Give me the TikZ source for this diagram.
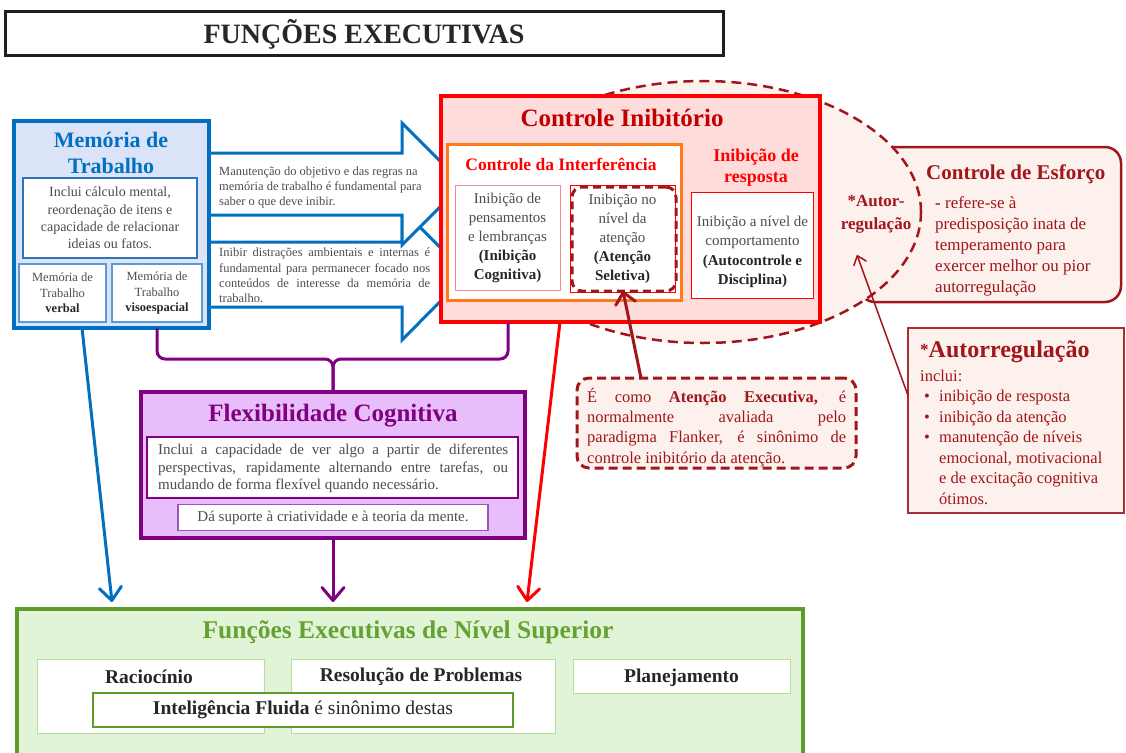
\documentclass[tikz,border=0pt]{standalone}
\usepackage{fontspec}
\setmainfont{Liberation Serif}
\usetikzlibrary{arrows.meta,shapes.geometric}
\definecolor{mblue}{HTML}{0070C0}
\definecolor{mfill}{HTML}{DAE3F7}
\definecolor{minner}{HTML}{2F75B5}
\definecolor{msmall}{HTML}{5B9BD5}
\definecolor{cired}{HTML}{FF0000}
\definecolor{cifill}{HTML}{FFDCDC}
\definecolor{cidark}{HTML}{C00000}
\definecolor{corange}{HTML}{FF7A1A}
\definecolor{dred}{HTML}{A0161B}
\definecolor{lfill}{HTML}{FCF1EC}
\definecolor{gtext}{HTML}{4D4D4D}
\definecolor{cpurple}{HTML}{800080}
\definecolor{pfill}{HTML}{E7BEF9}
\definecolor{pinner}{HTML}{9A55B8}
\definecolor{cgreen}{HTML}{5E9B2C}
\definecolor{gfill}{HTML}{E2F4D7}
\definecolor{gtitle}{HTML}{64A232}
\definecolor{gborder}{HTML}{B9DCA0}
\definecolor{pinkb}{HTML}{F28C8C}
\newcommand{\jl}[2]{\makebox[#1][s]{#2}}
\newcommand{\bk}[1]{\textbf{\color{black!85}#1}}
\newcommand{\bul}{\makebox[19pt][l]{\hspace{4pt}\textbullet}}
\newcommand{\ind}{\makebox[19pt]{}}
\newcommand{\fsz}[2]{\fontsize{#1}{#2}\selectfont}
\begin{document}
\begin{tikzpicture}[x=1pt,y=-1pt,
  box/.style={inner sep=0pt,outer sep=0pt},
  barrow/.style={draw=mblue,fill=white,line width=3pt,line join=miter},
  down/.style={line width=3pt,line cap=round,-{Straight Barb[length=13pt,width=22pt,round]}},
  brace/.style={draw=cpurple,line width=3pt,rounded corners=8pt}]
\useasboundingbox (0,0) rectangle (1126,752);
\clip (0,0) rectangle (1126,752);

% title
\node[box,draw=black!88,line width=3pt,fill=white,minimum width=718,minimum height=44,font=\fsz{28}{30}\bfseries,text=black!85] (title) at (364,34)
  {FUNÇÕES EXECUTIVAS};

% Controle de Esforço box and ellipse
\node[box,draw=dred,fill=lfill,line width=2.5pt,rounded corners=16pt,minimum width=262,minimum height=155] (esf) at (990,224.5) {};
\node[box,ellipse,draw=dred,fill=lfill,line width=2.5pt,dash pattern=on 10pt off 6pt,minimum width=436,minimum height=262] (ell) at (703,212) {};
\node[anchor=west,text=dred,inner sep=0,font=\fsz{21}{24}\bfseries] (esft) at (926,174) {Controle de Esforço};
\node[anchor=west,text=dred,align=left,inner sep=0,font=\fsz{17}{21}] (esfb) at (935,246)
  {\textbf{-} refere-se à\\predisposição inata de\\temperamento para\\exercer melhor ou pior\\autorregulação};
\node[text=dred,align=center,inner sep=0,font=\fsz{17}{23}\bfseries] (ar) at (876,214.5) {*Autor-\\regulação};
\coordinate (artip) at (857,255);

% block arrows
\draw[barrow] (209,242) -- (402,242) -- (402,209) -- (467,274.5) -- (402,340) -- (402,307) -- (209,307) -- cycle;
\draw[barrow] (209,153) -- (402,153) -- (402,123) -- (463,184) -- (402,245) -- (402,215) -- (209,215) -- cycle;

% Controle Inibitorio
\node[box,draw=cired,fill=cifill,line width=4pt,minimum width=379,minimum height=226] (ci) at (630.5,209) {};
\node[text=cidark,font=\fsz{25}{28}\bfseries] (cit) at (622,118) {Controle Inibitório};
\node[box,draw=corange,fill=white,line width=3pt,minimum width=234,minimum height=156] (cint) at (564,222) {};
\node[text=cired,font=\fsz{17.5}{20}\bfseries] (cintt) at (561,164) {Controle da Interferência};
\node[box,draw=pinkb,line width=1pt,fill=white,minimum width=105,minimum height=105,align=center,text=gtext,font=\fsz{15}{19}] (cog) at (507.5,237.5)
  {Inibição de\\pensamentos\\e lembranças\\\bk{(Inibição}\\\bk{Cognitiva)}};
\node[box,draw=cired,line width=1pt,fill=white,minimum width=105,minimum height=107,align=center,text=gtext,font=\fsz{15}{19}] (sel) at (622.5,238.5)
  {Inibição no\\nível da\\atenção\\\bk{(Atenção}\\\bk{Seletiva)}};
\node[box,draw=dred,dash pattern=on 8pt off 5pt,line width=3pt,rounded corners=10pt,minimum width=104,minimum height=104] (seld) at (624,239) {};
\node[text=cired,align=center,font=\fsz{18}{21}\bfseries] (irt) at (756,167.5) {Inibição de\\resposta};
\node[box,draw=cired,line width=1pt,fill=white,minimum width=122,minimum height=106] (resp) at (752.5,245) {};
\node[align=center,text=gtext,inner sep=0,font=\fsz{15}{19.5}] (respt) at (752.5,252)
  {Inibição a nível de\\comportamento\\\bk{(Autocontrole e}\\\bk{Disciplina)}};

% Memoria de Trabalho
\node[box,draw=mblue,fill=mfill,line width=3.5pt,minimum width=195,minimum height=207] (mem) at (111.5,224.5) {};
\node[text=mblue,align=center,font=\fsz{22}{26}\bfseries] (memt) at (111,153) {Memória de\\Trabalho};
\node[box,draw=minner,fill=white,line width=2pt,minimum width=174,minimum height=80,align=center,text=gtext,font=\fsz{14}{17.3}] (memi) at (110,218)
  {Inclui cálculo mental,\\reordenação de itens e\\capacidade de relacionar\\ideias ou fatos.};
\node[box,draw=msmall,fill=white,line width=1.5pt,minimum width=87,minimum height=58,align=center,text=gtext,font=\fsz{12.5}{15.5}] (memv) at (62.5,293)
  {Memória de\\Trabalho\\\bk{verbal}};
\node[box,draw=msmall,fill=white,line width=1.5pt,minimum width=90,minimum height=58,align=center,text=gtext,font=\fsz{12.5}{15.5}] (meme) at (157,293)
  {Memória de\\Trabalho\\\bk{visoespacial}};

% arrow texts
\node[anchor=west,inner sep=0,align=left,text=gtext,font=\fsz{12.5}{15.2}] (ta) at (219,187.5)
  {Manutenção do objetivo e das regras na\\memória de trabalho é fundamental para\\saber o que deve inibir.};
\node[anchor=west,inner sep=0,align=left,text=gtext,font=\fsz{12.5}{15.2}] (tb) at (219,275.5)
  {\jl{211pt}{Inibir distrações ambientais e internas é}\\\jl{211pt}{fundamental para permanecer focado nos}\\\jl{211pt}{conteúdos de interesse da memória de}\\trabalho.};

% Flexibilidade
\node[box,draw=cpurple,fill=pfill,line width=4pt,minimum width=384,minimum height=146] (flex) at (333,465) {};
\coordinate (bm) at (333,359);
\draw[brace] ([xshift=45.5pt]mem.south) |- (bm) -- (flex.north);
\draw[brace] ([xshift=-122.5pt]ci.south) |- (bm) -- (flex.north);
\node[text=cpurple,font=\fsz{25}{28}\bfseries] (flext) at (333,416) {Flexibilidade Cognitiva};
\node[box,draw=cpurple,fill=white,line width=2pt,minimum width=371,minimum height=61] (flexi) at (332.5,467.5) {};
\node[text=gtext,align=left,inner sep=0,anchor=west,font=\fsz{15}{17.3}] (flexit) at (158,468.5)
  {\jl{350pt}{Inclui a capacidade de ver algo a partir de diferentes}\\\jl{350pt}{perspectivas, rapidamente alternando entre tarefas, ou}\\mudando de forma flexível quando necessário.};
\node[box,draw=pinner,fill=white,line width=1.5pt,minimum width=310,minimum height=26,text=gtext,font=\fsz{15}{17}] (flexs) at (333,517.5)
  {Dá suporte à criatividade e à teoria da mente.};

% Atencao Executiva
\node[box,draw=dred,fill=lfill,line width=3pt,dash pattern=on 9pt off 5pt,rounded corners=12pt,minimum width=279,minimum height=90] (aten) at (716.5,423) {};
\node[text=dred,align=left,inner sep=0,anchor=west,font=\fsz{16.5}{20.2}] (atent) at (587,427.5)
  {\jl{259pt}{É como \textbf{Atenção Executiva,} é}\\\jl{259pt}{normalmente avaliada pelo}\\\jl{259pt}{paradigma Flanker, é sinônimo de}\\controle inibitório da atenção.};
\draw[dred,line width=3pt,line cap=round,-{Straight Barb[length=11pt,width=20pt,round]}] ([xshift=-75.5pt]aten.north) -- ([xshift=-1pt]seld.south);

% Autorregulacao
\node[box,draw=dred!90,fill=lfill,line width=2pt,minimum width=216,minimum height=185] (areg) at (1016,420.5) {};
\node[anchor=west,text=dred,inner sep=0,font=\bfseries] (aregt) at (920,352)
  {{\fsz{17}{17}\raisebox{2pt}{*}}\fsz{24}{26}Autorregulação};
\node[anchor=west,text=dred,align=left,inner sep=0,font=\fsz{16.5}{20.5}] (aregl) at (920,437)
  {inclui:\\\bul inibição de resposta\\\bul inibição da atenção\\\bul manutenção de níveis\\\ind emocional, motivacional\\\ind e de excitação cognitiva\\\ind ótimos.};
\draw[dred,line width=1.5pt,line cap=round,-{Straight Barb[length=8pt,width=13pt,round]}] ([yshift=25pt]areg.west) -- (artip);

% Funcoes Executivas de Nivel Superior
\node[box,draw=cgreen,fill=gfill,line width=4pt,minimum width=786,minimum height=170] (fes) at (410,694) {};
\node[text=gtitle,font=\fsz{25.5}{27}\bfseries] (fest) at (408,632) {Funções Executivas de Nível Superior};
\node[box,draw=gborder,fill=white,line width=1pt,minimum width=227,minimum height=74] (rac) at (150.5,696) {};
\node[text=black!85,font=\fsz{19.5}{21}\bfseries] (ract) at (149,677) {Raciocínio};
\node[box,draw=gborder,fill=white,line width=1pt,minimum width=264,minimum height=74] (res) at (423,696) {};
\node[text=black!85,font=\fsz{19.5}{21}\bfseries] (rest) at (421,677) {Resolução de Problemas};
\node[box,draw=gborder,fill=white,line width=1pt,minimum width=217,minimum height=34] (plan) at (681.5,676) {};
\node[text=black!85,font=\fsz{19.5}{21}\bfseries] (plant) at (681.5,678) {Planejamento};
\node[box,draw=cgreen,fill=white,line width=2pt,minimum width=420,minimum height=34,text=black!85,font=\fsz{19.5}{21}] (intel) at (303,710)
  {\textbf{Inteligência Fluida} é sinônimo destas};

% down arrows
\draw[down,mblue] ([xshift=-29.5pt]mem.south) -- ([xshift=-298pt,yshift=7pt]fes.north);
\draw[down,cpurple] (flex.south) -- ([xshift=-77pt,yshift=7pt]fes.north);
\draw[down,cired] ([xshift=-70.5pt]ci.south) -- ([xshift=117pt,yshift=7pt]fes.north);
\end{tikzpicture}
\end{document}
